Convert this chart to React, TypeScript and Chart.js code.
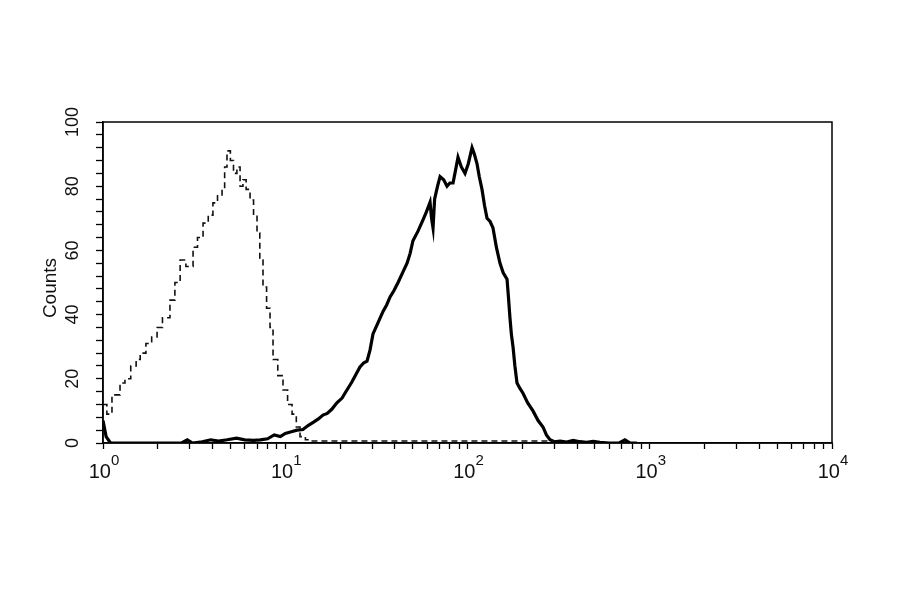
import { useEffect, useRef } from 'react';
import { Chart, registerables } from 'chart.js';

Chart.register(...registerables);

// solid histogram (stained sample)
const solidX = [1, 1.04, 1.1, 2.7, 2.9, 3.1, 3.5, 3.9, 4.3, 4.8, 5.4, 6.0, 6.7, 7.3, 8.0, 8.7, 9.4, 10.0, 10.8, 11.6, 12.5, 13.4, 14.3, 15.2, 16.1, 17.0, 18.0, 19.2, 20.5, 21.8, 23.2, 24.5, 25.7, 27.0, 28.1, 29.2, 30.3, 32.3, 34.4, 36.0, 37.6, 39.5, 41.6, 44.0, 46.6, 48.4, 50.2, 53.5, 57.0, 59.5, 62.3, 63.5, 64.7, 66.0, 68.5, 70.7, 74, 77.2, 80, 83.3, 86, 88.7, 92.5, 96.9, 101, 105.9, 109, 112.8, 116, 120.1, 124, 128, 133, 138, 144, 150.8, 157, 164.8, 168, 171, 174, 177.7, 182, 186.9, 194, 201.6, 214, 228.7, 244, 259.5, 271, 283.6, 300, 322, 350, 380, 414, 450, 490, 533, 600, 680, 731, 780, 850];
const solidY = [7, 2, 0, 0, 1, 0, 0.4, 1, 0.6, 1, 1.5, 1, 0.8, 1, 1.3, 2.5, 2, 3, 3.5, 4, 4.2, 5.5, 6.5, 7.5, 8.7, 9.2, 10.5, 12.5, 14, 16.5, 19, 21.5, 23.7, 25, 25.5, 29, 34, 37.5, 41, 43, 45.5, 47.5, 50, 53, 56, 59, 63, 66, 69.5, 72, 75, 70, 67, 76, 80, 83, 82, 80, 81, 81, 85, 89, 86, 84, 87, 92, 90, 87, 83, 79, 74, 70, 69, 67, 61, 56, 53, 51, 45, 39, 34, 30, 24, 18.7, 17, 15.5, 12.5, 10, 7, 5, 2.5, 1, 0.4, 0.6, 0.3, 0.8, 0.4, 0.2, 0.5, 0.2, 0, 0, 1, 0, 0];

// dashed histogram (control)
const dashX = [1, 1.05, 1.12, 1.24, 1.32, 1.42, 1.52, 1.60, 1.72, 1.85, 1.98, 2.12, 2.33, 2.48, 2.65, 2.85, 3.12, 3.3, 3.54, 3.78, 4.01, 4.25, 4.5, 4.65, 4.79, 5.0, 5.2, 5.43, 5.65, 5.86, 6.1, 6.41, 6.7, 7.0, 7.25, 7.55, 7.9, 8.25, 8.57, 9.1, 9.72, 10.3, 10.9, 11.5, 12.05, 12.9, 13.8, 14.5, 300];
const dashY = [12, 9, 15, 18.7, 20, 24, 26, 28, 31, 33, 36, 39, 44.5, 50, 57, 55, 61, 64, 68.5, 71, 74.8, 77, 79, 86, 91, 88, 84, 86, 80, 82, 79, 75.7, 71, 65.4, 57, 48.6, 42, 36, 26, 21, 16.5, 12, 9, 5, 2, 1, 0.6, 0.6, 0.6];

const xDecades = [1, 10, 100, 1000];
const xMultipliers = [1, 2, 3, 4, 5, 6, 7, 8, 9];
const xExponents = ['0', '1', '2', '3', '4'];
const yLabels = [0, 20, 40, 60, 80, 100];
const yTitle = 'Counts';

const FONT = '"Liberation Sans", Arial, sans-serif';

const decorations = {
  id: 'decorations',
  afterDraw(chart: any) {
    const { ctx, chartArea, scales } = chart;
    ctx.save();
    ctx.strokeStyle = '#000';
    ctx.lineWidth = 1.5;
    ctx.strokeRect(chartArea.left, chartArea.top, chartArea.right - chartArea.left, chartArea.bottom - chartArea.top);

    ctx.fillStyle = '#111';
    // x labels with superscript exponent
    xExponents.forEach((e) => {
      const px = scales.x.getPixelForValue(Math.pow(10, Number(e)));
      ctx.font = `20px ${FONT}`;
      const wBase = ctx.measureText('10').width;
      ctx.font = `15px ${FONT}`;
      const wExp = ctx.measureText(e).width;
      const start = px - (wBase + wExp) / 2 + 1;
      ctx.textAlign = 'left';
      ctx.textBaseline = 'alphabetic';
      ctx.font = `20px ${FONT}`;
      ctx.fillText('10', start, 478);
      ctx.font = `15px ${FONT}`;
      ctx.fillText(e, start + wBase, 465);
    });

    // rotated y tick labels
    ctx.font = `18px ${FONT}`;
    ctx.textAlign = 'center';
    ctx.textBaseline = 'middle';
    yLabels.forEach((v) => {
      const py = scales.y.getPixelForValue(v);
      ctx.save();
      ctx.translate(73, py);
      ctx.rotate(-Math.PI / 2);
      ctx.fillText(String(v), 0, 0);
      ctx.restore();
    });

    // axis title
    ctx.font = `19px ${FONT}`;
    ctx.save();
    ctx.translate(51, 288);
    ctx.rotate(-Math.PI / 2);
    ctx.fillText(yTitle, 0, 0);
    ctx.restore();
    ctx.restore();
  },
};

export default function App() {
  const canvasRef = useRef<HTMLCanvasElement>(null);
  const chartRef = useRef<Chart | null>(null);

  useEffect(() => {
    document.body.style.margin = '0';
    if (!canvasRef.current) return;
    if (chartRef.current) chartRef.current.destroy();

    chartRef.current = new Chart(canvasRef.current, {
      type: 'line',
      data: {
        datasets: [
          {
            label: 'Control',
            data: dashX.map((x, i) => ({ x, y: dashY[i] })),
            borderColor: '#111',
            borderWidth: 1.6,
            borderDash: [6, 4],
            pointRadius: 0,
            stepped: true,
            fill: false,
          },
          {
            label: 'Sample',
            data: solidX.map((x, i) => ({ x, y: solidY[i] })),
            borderColor: '#000',
            borderWidth: 3.2,
            pointRadius: 0,
            stepped: false,
            fill: false,
          },
        ],
      },
      options: {
        animation: false,
        responsive: true,
        maintainAspectRatio: false,
        layout: { padding: { top: 122, right: 68, left: 0, bottom: 0 } },
        plugins: {
          legend: { display: false },
          tooltip: { enabled: false },
        },
        scales: {
          x: {
            type: 'logarithmic',
            min: 1,
            max: 10000,
            afterFit: (s: any) => {
              s.height = 151;
            },
            afterBuildTicks: (s: any) => {
              const vals: number[] = [];
              xDecades.forEach((d) => xMultipliers.forEach((m) => vals.push(d * m)));
              vals.push(10000);
              s.ticks = vals.map((v) => ({ value: v }));
            },
            ticks: { autoSkip: false, callback: () => '' },
            grid: { drawOnChartArea: false, drawTicks: true, tickLength: 6, color: '#000', tickWidth: 1.3 },
            border: { display: true, color: '#000', width: 1.5 },
          },
          y: {
            type: 'linear',
            min: 0,
            max: 100,
            afterFit: (s: any) => {
              s.width = 103;
            },
            ticks: { stepSize: 4, autoSkip: false, callback: () => '' },
            grid: { drawOnChartArea: false, drawTicks: true, tickLength: 7, color: '#000', tickWidth: 1.3 },
            border: { display: true, color: '#000', width: 1.5 },
          },
        },
      },
      plugins: [decorations],
    });

    return () => {
      if (chartRef.current) {
        chartRef.current.destroy();
        chartRef.current = null;
      }
    };
  }, []);

  return (
    <div style={{ width: 900, height: 594, position: 'relative', background: '#fff' }}>
      <canvas ref={canvasRef} />
    </div>
  );
}
